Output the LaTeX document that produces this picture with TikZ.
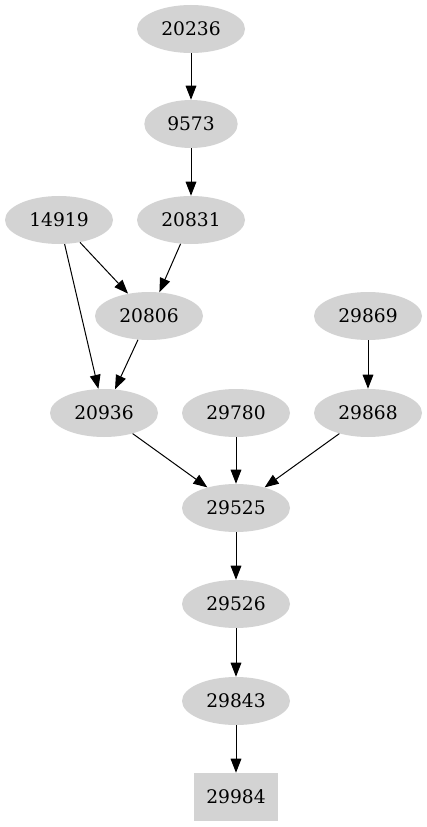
\documentclass[tikz,border=0pt]{standalone}
\usepackage{fontspec}
\setmainfont{DejaVu Serif}
\usetikzlibrary{shapes.geometric,arrows.meta}
\definecolor{nodegray}{HTML}{D3D3D3}
\tikzset{
  el/.style={ellipse, fill=nodegray, inner sep=0pt, minimum width=81pt, minimum height=36pt, font=\fontsize{14pt}{16pt}\selectfont},
  elsm/.style={el, minimum width=70pt},
  bx/.style={rectangle, fill=nodegray, inner sep=0pt, minimum width=63pt, minimum height=36pt, font=\fontsize{14pt}{16pt}\selectfont},
  edge/.style={-{Triangle[length=10.5pt,width=8pt]}, line width=0.75pt, black}
}
\begin{document}
\begin{tikzpicture}[x=0.75pt,y=-0.75pt]
\useasboundingbox (0,0) rectangle (427,827);
\node[el] (n20236) at (191,29) {20236};
\node[elsm] (n9573) at (191,124) {9573};
\node[el] (n14919) at (59,220) {14919};
\node[el] (n20831) at (191,220) {20831};
\node[el] (n20806) at (149,316) {20806};
\node[el] (n29869) at (368,316) {29869};
\node[el] (n20936) at (104,413) {20936};
\node[el] (n29780) at (236,413) {29780};
\node[el] (n29868) at (368,413) {29868};
\node[el] (n29525) at (236,508) {29525};
\node[el] (n29526) at (236,604) {29526};
\node[el] (n29843) at (236,701) {29843};
\node[bx] (n29984) at (236,797) {29984};
\draw[edge] (n20236) -- (n9573);
\draw[edge] (n9573) -- (n20831);
\draw[edge] (n14919) -- (n20806);
\draw[edge] (n14919) -- (n20936);
\draw[edge] (n20831) -- (n20806);
\draw[edge] (n20806) -- (n20936);
\draw[edge] (n29869) -- (n29868);
\draw[edge] (n20936) -- (n29525);
\draw[edge] (n29780) -- (n29525);
\draw[edge] (n29868) -- (n29525);
\draw[edge] (n29525) -- (n29526);
\draw[edge] (n29526) -- (n29843);
\draw[edge] (n29843) -- (n29984);
\end{tikzpicture}
\end{document}
